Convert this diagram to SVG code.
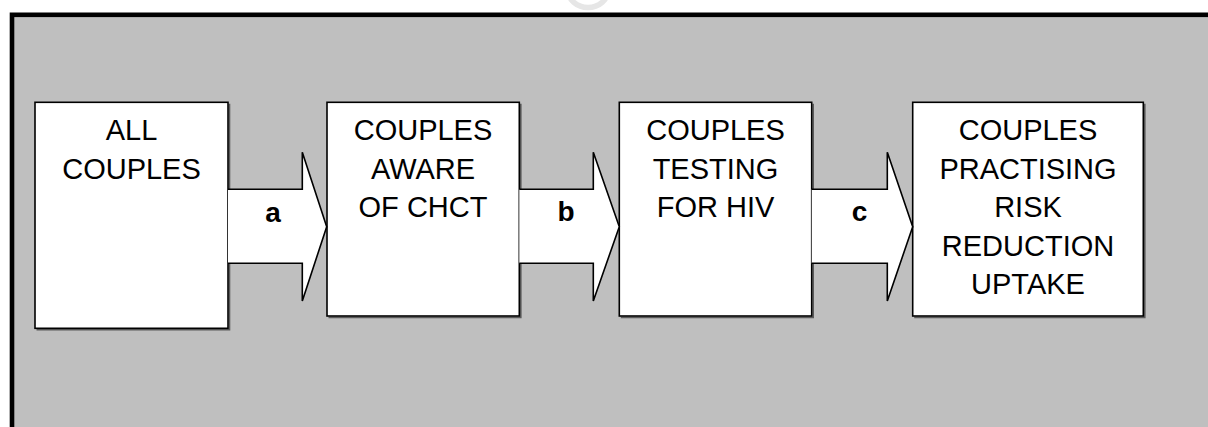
<svg xmlns="http://www.w3.org/2000/svg" width="1208" height="427" viewBox="0 0 1208 427">
  <style>
    .box { fill: #FFFFFF; stroke: #000000; stroke-width: 1.6; }
    .shadow { fill: none; stroke: #5A5A5A; stroke-width: 1.6; }
    .arrow { fill: #FFFFFF; stroke: #000000; stroke-width: 1.6; stroke-linejoin: miter; }
    .txt { font-family: "Liberation Sans", Arial, sans-serif; font-size: 29px; fill: #000000; text-anchor: middle; }
    .lbl { font-family: "Liberation Sans", Arial, sans-serif; font-size: 28px; font-weight: bold; fill: #000000; text-anchor: middle; }
  </style>
  <rect x="0" y="0" width="1208" height="427" fill="#FFFFFF"/>
  <ellipse cx="588" cy="-10" rx="20" ry="17.5" fill="none" stroke="#E6E6E6" stroke-width="5.5"/>
  <rect id="frame" x="12" y="14.8" width="1400" height="600" fill="#BFBFBF" stroke="#000000" stroke-width="4.6"/>

  <g id="node-all-couples">
    <path class="shadow" d="M36.5,329.8 H229.5 V103.8"/>
    <rect class="box" x="35" y="102.3" width="193" height="226"/>
    <text class="txt" x="131.5" y="140">ALL</text>
    <text class="txt" x="131.5" y="178.5">COUPLES</text>
  </g>
  <g id="node-aware">
    <path class="shadow" d="M328.5,317.5 H520.8 V103.8"/>
    <rect class="box" x="327" y="102.3" width="192.3" height="213.7"/>
    <text class="txt" x="423" y="140">COUPLES</text>
    <text class="txt" x="423" y="178.5">AWARE</text>
    <text class="txt" x="423" y="217">OF CHCT</text>
  </g>
  <g id="node-testing">
    <path class="shadow" d="M620.8,317.5 H813.2 V103.8"/>
    <rect class="box" x="619.3" y="102.3" width="192.4" height="213.7"/>
    <text class="txt" x="715.5" y="140">COUPLES</text>
    <text class="txt" x="715.5" y="178.5">TESTING</text>
    <text class="txt" x="715.5" y="217">FOR HIV</text>
  </g>
  <g id="node-practising">
    <path class="shadow" d="M914.2,317.5 H1144.8 V103.8"/>
    <rect class="box" x="912.7" y="102.3" width="230.6" height="213.7"/>
    <text class="txt" x="1028" y="140">COUPLES</text>
    <text class="txt" x="1028" y="178.5">PRACTISING</text>
    <text class="txt" x="1028" y="217">RISK</text>
    <text class="txt" x="1028" y="255.5">REDUCTION</text>
    <text class="txt" x="1028" y="294">UPTAKE</text>
  </g>

  <g id="connectors">
    <path class="arrow" d="M228,189.3 H302.3 V152.3 L326.7,226.7 L302.3,301 V263.3 H228"/>
    <path class="arrow" d="M519.3,189.3 H593.3 V152.3 L619.3,226.7 L593.3,301 V263.3 H519.3"/>
    <path class="arrow" d="M811.7,189.3 H887.3 V152.3 L912.7,226.7 L887.3,301 V263.3 H811.7"/>
    <text class="lbl" x="273" y="221.7">a</text>
    <text class="lbl" x="566" y="221.3">b</text>
    <text class="lbl" x="859.5" y="221.3">c</text>
  </g>
</svg>
